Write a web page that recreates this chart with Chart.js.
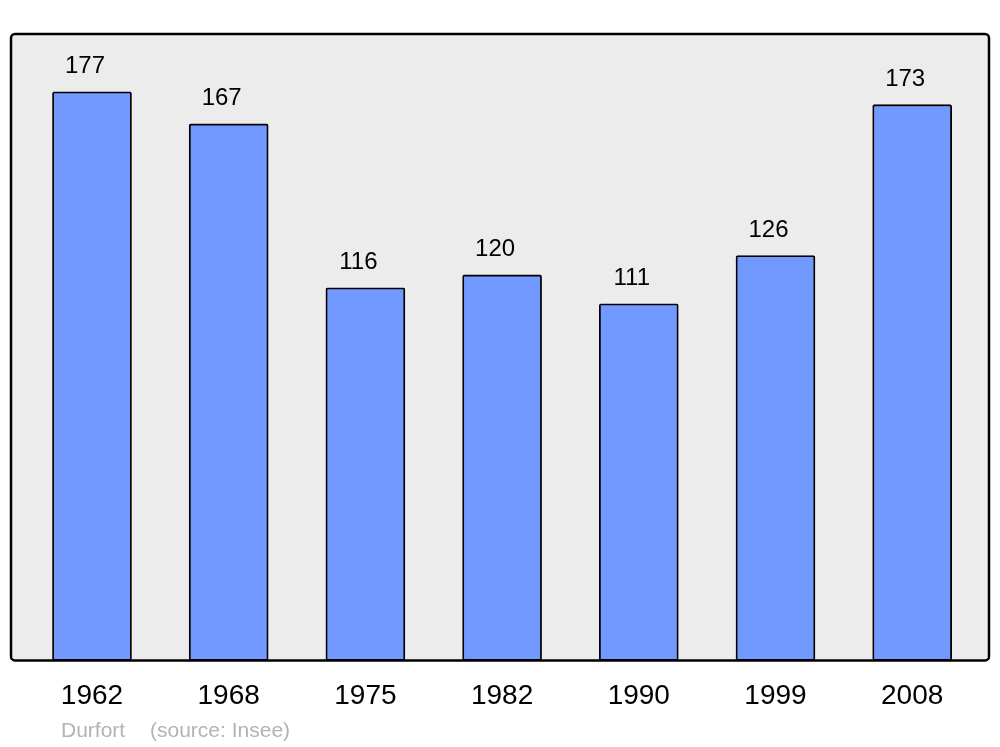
<!DOCTYPE html>
<html lang="fr">
<head>
    <meta charset="UTF-8">
    <title>Durfort - population</title>
    <script src="https://cdn.jsdelivr.net/npm/chart.js"></script>
    <style>
        html, body { margin: 0; padding: 0; background: #fff; }
        #wrap { width: 1000px; height: 747px; }
    </style>
</head>
<body>
    <div id="wrap"><canvas id="popChart"></canvas></div>

    <script>
        const years = ['1962', '1968', '1975', '1982', '1990', '1999', '2008'];
        const population = [177, 167, 116, 120, 111, 126, 173];
        const placeName = 'Durfort';
        const sourceText = '(source: Insee)';

        // box behind the bars
        const boxPlugin = {
            id: 'box',
            beforeDraw(chart) {
                const a = chart.chartArea;
                const c = chart.ctx;
                c.save();
                c.beginPath();
                c.roundRect(a.left, a.top, a.right - a.left, a.bottom - a.top, 4);
                c.fillStyle = '#ececec';
                c.fill();
                c.lineWidth = 2.5;
                c.strokeStyle = '#000';
                c.stroke();
                c.restore();
            }
        };

        // value above each bar (drawn a little left of centre, as in the original) + footer text
        const labelPlugin = {
            id: 'labels',
            afterDatasetsDraw(chart) {
                const c = chart.ctx;
                const meta = chart.getDatasetMeta(0);
                c.save();
                c.fillStyle = '#000';
                c.font = '24px "Liberation Sans", Arial, sans-serif';
                c.textAlign = 'center';
                c.textBaseline = 'alphabetic';
                meta.data.forEach((bar, i) => {
                    c.fillText(String(population[i]), bar.x - 7, bar.y - 19);
                });
                c.fillStyle = '#b3b3b3';
                c.font = '21px "Liberation Sans", Arial, sans-serif';
                c.textAlign = 'left';
                c.fillText(placeName, 61, 737);
                c.fillText(sourceText, 150, 737);
                c.restore();
            }
        };

        const ctx = document.getElementById('popChart').getContext('2d');
        new Chart(ctx, {
            type: 'bar',
            data: {
                datasets: [{
                    data: population.map((v, i) => ({ x: i, y: v })),
                    backgroundColor: '#7299ff',
                    borderColor: '#000',
                    borderWidth: 1.8,
                    borderRadius: 2,
                    borderSkipped: false,
                    barThickness: 79,
                }],
            },
            options: {
                responsive: true,
                maintainAspectRatio: false,
                animation: false,
                layout: {
                    padding: { left: 11, right: 11, top: 34, bottom: 23 },
                },
                plugins: {
                    legend: { display: false },
                    tooltip: { enabled: false },
                },
                scales: {
                    x: {
                        type: 'linear',
                        offset: false,
                        min: -0.5925,
                        max: 6.562,
                        grid: { display: false },
                        border: { display: false },
                        afterBuildTicks: (scale) => {
                            scale.ticks = years.map((_, i) => ({ value: i }));
                        },
                        ticks: {
                            autoSkip: false,
                            maxRotation: 0,
                            padding: 11,
                            color: '#000',
                            font: { family: '"Liberation Sans", Arial, sans-serif', size: 28 },
                            callback: (value) => years[value],
                        },
                    },
                    y: {
                        display: false,
                        min: 0,
                        max: 195,
                    },
                },
            },
            plugins: [boxPlugin, labelPlugin],
        });
    </script>
</body>
</html>
